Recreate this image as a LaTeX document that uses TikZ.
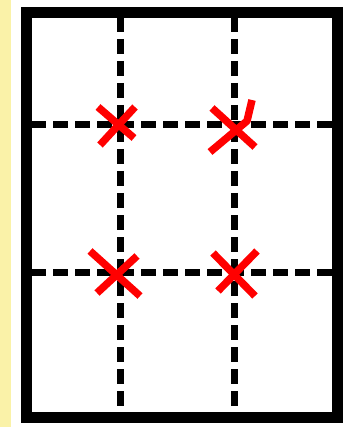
\documentclass[tikz,border=0pt]{standalone}
\definecolor{strip}{RGB}{250,242,168}
\definecolor{xred}{RGB}{255,0,0}
\tikzset{
  frame/.style={draw=black,line width=11pt,line join=miter},
  gridline/.style={draw=black,line width=7pt,dash pattern=on 15pt off 7pt},
  cross/.style={draw=xred,line width=7.5pt,line cap=butt,line join=round}
}
\begin{document}
\begin{tikzpicture}[x=1pt,y=-1pt]
\useasboundingbox (0,0) rectangle (350,427);
\fill[white] (0,0) rectangle (350,427);
\fill[strip] (0,0) rectangle (11,427);
% grid lines
\draw[gridline] (120,17) -- (120,412);
\draw[gridline] (234,17) -- (234,412);
\draw[gridline] (31,124.5) -- (332,124.5);
\draw[gridline] (31,272) -- (332,272);
% frame
\draw[frame] (26,12.5) rectangle (337,417);
% red crosses
\draw[cross] (98,107) -- (134,138);
\draw[cross] (135,107) -- (100,145);
\draw[cross] (212,108) -- (255,147);
\draw[cross] (252,100) -- (247,121) -- (210,152);
\draw[cross] (90,251) -- (140,296);
\draw[cross] (137,256) -- (97,293);
\draw[cross] (213,253) -- (255,296);
\draw[cross] (257,251) -- (218,291);
\end{tikzpicture}
\end{document}
